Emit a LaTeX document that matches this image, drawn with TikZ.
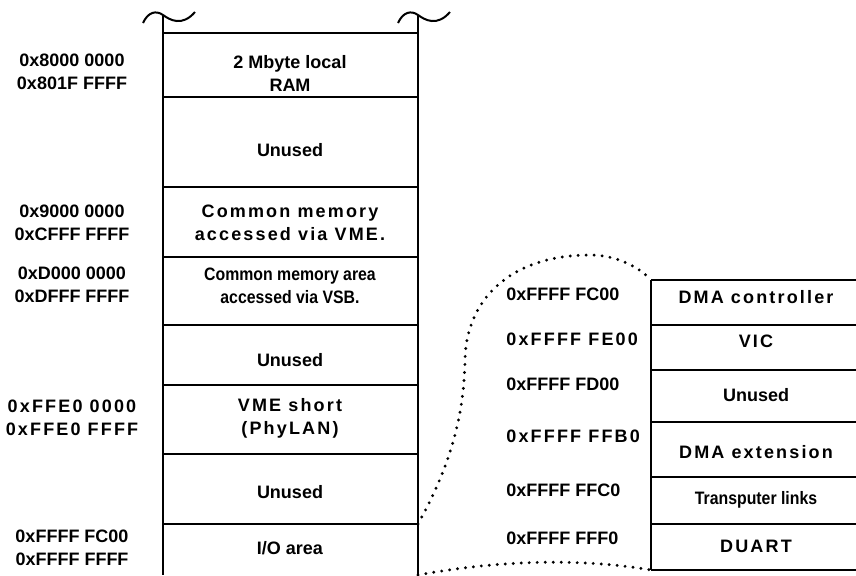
\documentclass[tikz,border=0pt]{standalone}
\usepackage{fontspec}
\setmainfont{Liberation Sans}
\newfontfamily\widesans[LetterSpace=12]{Liberation Sans}
\newfontfamily\narrowsans[FakeStretch=0.88]{Liberation Sans}
\usepackage{tikz}

\tikzset{
  addr/.style={align=center, inner sep=0pt, font=\bfseries\fontsize{9}{11.5}\selectfont},
  waddr/.style={align=center, inner sep=0pt, font=\widesans\bfseries\fontsize{9}{11.5}\selectfont},
  naddr/.style={align=center, inner sep=0pt, font=\narrowsans\bfseries\fontsize{9}{11.5}\selectfont},
  grid/.style={line width=1pt},
  zoomline/.style={line width=1.6pt, line cap=round, dash pattern=on 0pt off 4pt}
}

\begin{document}
\begin{tikzpicture}[x=0.5pt,y=-0.5pt]
\useasboundingbox (0,0) rectangle (856,575);
% memory map column
\draw[grid] (163,15) -- (163,575);
\draw[grid] (418,15) -- (418,575);
\foreach \y in {33,97,187,257,325,385,454,524}
  \draw[grid] (163,\y) -- (418,\y);
\draw[grid] (143,23) .. controls (148,12) and (156,10) .. (163,15) .. controls (170,20) and (182,27) .. (195,12);
\draw[grid] (398,23) .. controls (403,12) and (411,10) .. (418,15) .. controls (425,20) and (437,27) .. (450,12);
\node[addr] (ram) at (290,73) {2 Mbyte local\\RAM};
\node[addr] (free1) at (290,150) {Unused};
\node[waddr] (vme) at (290,223) {Common memory\\accessed via VME.};
\node[naddr] (vsb) at (290,286) {Common memory area\\accessed via VSB.};
\node[addr] (free2) at (290,360) {Unused};
\node[waddr] (phy) at (290,418) {VME short\\(PhyLAN)};
\node[addr] (free3) at (290,492) {Unused};
\node[addr] (io) at (290,548) {I/O area};
% start and end addresses
\node[addr] (aRam) at (72,72) {0x8000 0000\\0x801F FFFF};
\node[addr] (aVme) at (72,223) {0x9000 0000\\0xCFFF FFFF};
\node[addr] (aVsb) at (72,285) {0xD000 0000\\0xDFFF FFFF};
\node[waddr] (aPhy) at (72,418) {0xFFE0 0000\\0xFFE0 FFFF};
\node[addr] (aIo) at (72,548) {0xFFFF FC00\\0xFFFF FFFF};
% I/O area in detail
\draw[grid] (651,280) -- (651,570);
\foreach \y in {280,325,370,422,477,524,570}
  \draw[grid] (651,\y) -- (856,\y);
\node[waddr] (dma) at (756,297) {DMA controller};
\node[waddr] (vic) at (756,341) {VIC};
\node[addr] (free4) at (756,395) {Unused};
\node[waddr] (dmaExt) at (756,452) {DMA extension};
\node[naddr] (links) at (756,500) {Transputer links};
\node[waddr] (duart) at (756,546) {DUART};
\node[addr, anchor=west] (aDma) at (506,294) {0xFFFF FC00};
\node[waddr, anchor=west] (aVic) at (506,339) {0xFFFF FE00};
\node[addr, anchor=west] (aFree) at (506,384) {0xFFFF FD00};
\node[waddr, anchor=west] (aExt) at (506,436) {0xFFFF FFB0};
\node[addr, anchor=west] (aLinks) at (506,490) {0xFFFF FFC0};
\node[addr, anchor=west] (aDuart) at (506,538) {0xFFFF FFF0};
% zoom lines
\coordinate (ioTop) at (418,524);
\coordinate (ioEnd) at (418,575);
\coordinate (boxTop) at (651,280);
\coordinate (boxEnd) at (651,570);
\draw[zoomline] (ioTop) .. controls (448,470) and (464,420) .. (465,360) .. controls (466,300) and (510,255) .. (590,255) .. controls (615,255) and (638,266) .. (boxTop);
\draw[zoomline] (ioEnd) .. controls (500,560) and (580,558) .. (boxEnd);
\end{tikzpicture}
\end{document}
